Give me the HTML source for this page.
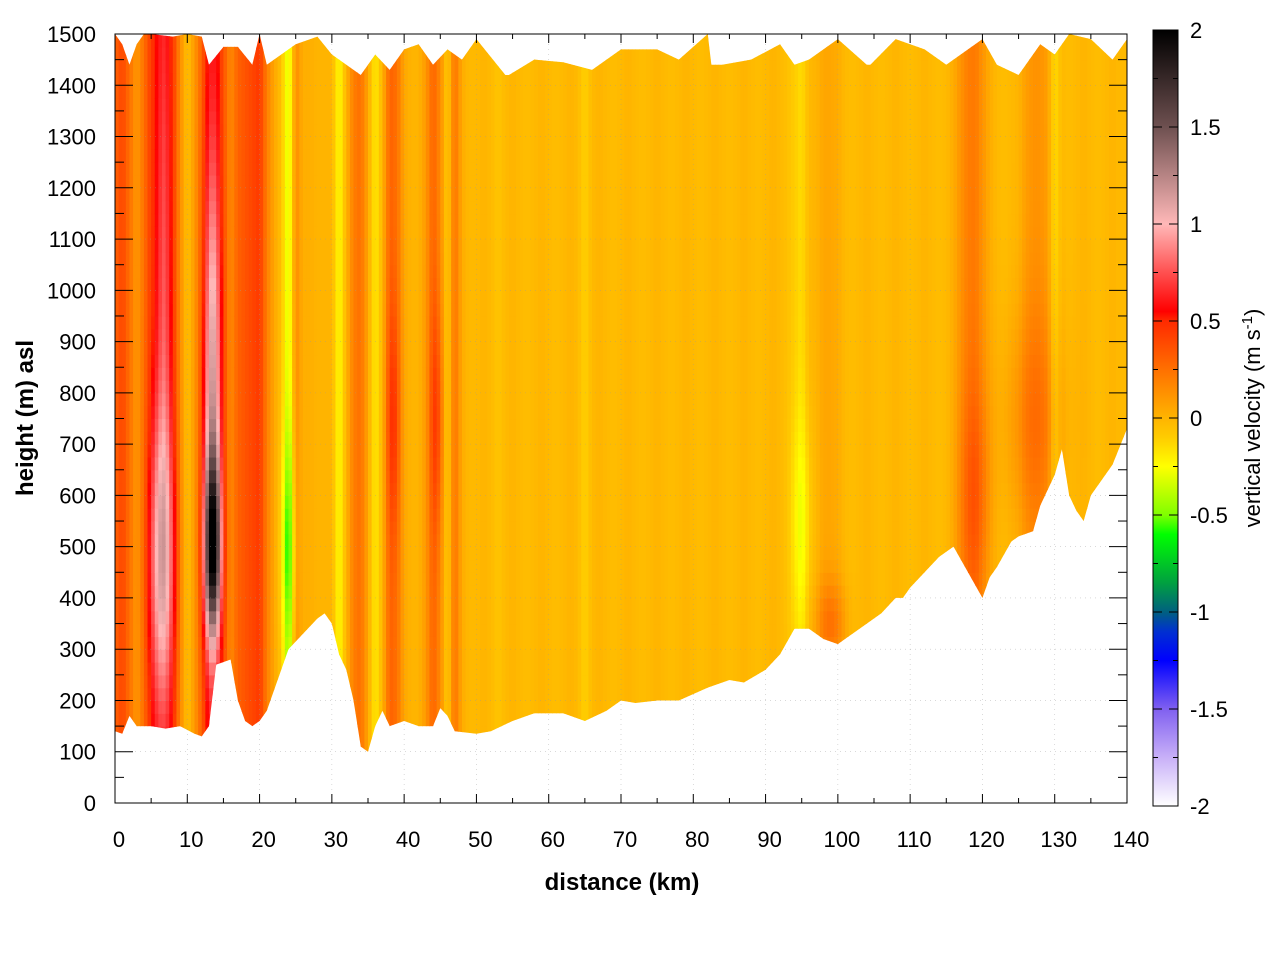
<!DOCTYPE html>
<html><head><meta charset="utf-8"><style>
html,body{margin:0;padding:0;background:#fff;}
svg{display:block;font-family:"Liberation Sans",sans-serif;}
</style></head><body>
<svg id="chart" width="1280" height="960" viewBox="0 0 1280 960" xmlns="http://www.w3.org/2000/svg">
<defs>
<clipPath id="terrainClip"><polygon id="clipPoly" points=""/></clipPath>
<linearGradient id="cbGrad" x1="0" y1="1" x2="0" y2="0"></linearGradient>
</defs>
<g id="cells" clip-path="url(#terrainClip)"></g>
<g id="grid"></g>
<g id="axes"></g>
<text x="622" y="890" text-anchor="middle" font-size="24" font-weight="bold">distance (km)</text>
<text transform="translate(33,418) rotate(-90)" text-anchor="middle" font-size="24" font-weight="bold">height (m) asl</text>
<rect x="1153" y="30" width="25" height="776" fill="url(#cbGrad)" stroke="#000" stroke-width="1"/>
<g id="cbticks"></g>
<text transform="translate(1260,418) rotate(-90)" text-anchor="middle" font-size="22">vertical velocity (m s<tspan dy="-8" font-size="15">-1</tspan><tspan dy="8">)</tspan></text>
</svg>
<script>
// ---- data ----
const xTicks = [0,10,20,30,40,50,60,70,80,90,100,110,120,130,140];
const yTicks = [0,100,200,300,400,500,600,700,800,900,1000,1100,1200,1300,1400,1500];
const cbTicks = [-2,-1.5,-1,-0.5,0,0.5,1,1.5,2];
const cbLabels = ["-2","-1.5","-1","-0.5","0","0.5","1","1.5","2"];
const groundKm = [0,1,2,3,5,7,9,11,12,13,14,16,17,18,19,20,21,22,24,26,28,29,30,31,32,33,34,35,36,37,38,40,42,44,45,46,47,50,52,55,58,62,65,68,70,72,75,78,82,85,87,90,92,94,96,98,100,102,104,106,108,109,110,112,114,115,116,118,120,121,122,124,125,127,128,130,131,132,133,134,135,136,138,140];
const groundH = [140,135,170,150,150,145,150,135,130,150,270,280,200,160,150,160,180,220,300,330,360,370,350,290,260,200,110,100,150,180,150,160,150,150,185,170,140,135,140,160,175,175,160,180,200,195,200,200,225,240,235,260,290,340,340,320,310,330,350,370,400,400,420,450,480,490,500,450,400,440,460,510,520,530,580,640,690,600,570,550,600,620,660,730];
const topKm = [0,1,2,3,4,5,8,10,12,13,15,17,19,20,21,22,25,28,30,32,34,36,38,40,42,44,46,48,50,54,54.5,58,62,66,70,75,78,82,82.5,84,88,92,94,96,100,104,104.5,108,112,115,120,122,125,128,130,132,135,138,140];
const topH = [1500,1480,1440,1480,1500,1500,1495,1500,1495,1440,1475,1475,1440,1500,1440,1450,1480,1495,1460,1440,1420,1460,1430,1470,1480,1440,1470,1450,1490,1420,1420,1450,1445,1430,1470,1470,1450,1500,1440,1440,1450,1480,1440,1450,1490,1440,1440,1490,1470,1440,1490,1440,1420,1480,1460,1500,1490,1450,1490];
const base = [0.3,0.4,0.25,0.1,0.25,0.45,0.55,0.55,0.45,0.15,-0.05,0.1,0.3,0.55,0.55,0.35,0.15,0.3,0.35,0.4,0.45,0.2,0.05,-0.05,-0.35,0.15,0.02,0.02,0.0,0.0,0.0,-0.25,0.0,0.2,0.25,0.05,-0.2,0.0,0.3,0.25,0.05,0.0,0.0,0.1,0.3,0.15,-0.1,0.25,0.03,-0.02,
-0.02,0.0,-0.02,-0.07,-0.02,0.0,-0.02,-0.04,-0.02,0.0,-0.02,-0.04,-0.02,0.0,-0.02,-0.12,-0.02,0.0,-0.02,-0.04,-0.02,0.0,-0.02,-0.04,-0.02,0.0,-0.02,-0.04,-0.02,0.0,-0.02,-0.04,-0.02,0.0,-0.02,-0.04,-0.02,0.0,-0.02,-0.04,-0.02,0.0,-0.02,-0.05,-0.1,-0.15,-0.02,0.0,0.05,0.05,0.03,-0.02,-0.04,-0.02,0.0,-0.02,-0.04,-0.02,0.0,-0.02,-0.04,-0.02,0.0,-0.02,-0.04,-0.02,0.03,0.12,0.2,0.22,0.12,0.03,-0.02,-0.04,-0.02,0.0,0.08,0.12,0.12,0.08,-0.15,-0.02,-0.04,-0.02,0.0,-0.02,-0.04,-0.02,0.0,-0.02,-0.02];
const blobKm = [6.5,6.8,13.5,13.5,24,38.5,44.5,119,127,99,95];
const blobH = [480,1000,500,800,500,750,750,600,750,350,550];
const blobAmp = [0.55,0.2,1.3,0.6,-0.3,0.2,0.2,0.15,0.15,0.2,-0.15];
// ---- scales ----
const X0=115,X1=1127,Y0=803,Y1=34;
const sx = d => X0 + d*(X1-X0)/140;
const sy = h => Y0 - h*(Y0-Y1)/1500;
const blobSx=[1.2,0.6,0.8,0.8,0.7,0.6,0.6,1.5,3,1.5,1], blobSh=[200,400,120,300,150,150,150,150,150,60,150];
const stopsV=[-2,-1.75,-1.5,-1.25,-1.1,-1,-0.85,-0.6,-0.5,-0.25,-0.1,0,0.25,0.5,0.55,0.75,1.0,1.5,2];
const stopsC=["#ffffff","#c8b0f8","#8060f0","#0000ff","#0030d0","#006080","#00a040","#00ff00","#80ff00","#ffff00","#ffcc00","#ffb400","#ff7000","#ff2a00","#ff0000","#ff5050","#ffb8b8","#6e5050","#000000"];
function hex(c){return [1,3,5].map(i=>parseInt(c.substr(i,2),16));}
function color(v){v=Math.max(-2,Math.min(2,v));for(let i=0;i<stopsV.length-1;i++){if(v<=stopsV[i+1]){const t=(v-stopsV[i])/(stopsV[i+1]-stopsV[i]);const a=hex(stopsC[i]),b=hex(stopsC[i+1]);return "rgb("+a.map((x,k)=>Math.round(x+(b[k]-x)*t)).join(",")+")";}}return stopsC[stopsC.length-1];}
const NS="http://www.w3.org/2000/svg";
function el(tag,attrs,parent){const e=document.createElementNS(NS,tag);for(const k in attrs)e.setAttribute(k,attrs[k]);parent.appendChild(e);return e;}
// clip
let pts=topKm.map((d,i)=>sx(d)+","+sy(topH[i]));
for(let i=groundKm.length-1;i>=0;i--)pts.push(sx(groundKm[i])+","+sy(groundH[i]));
document.getElementById('clipPoly').setAttribute('points',pts.join(' '));
// cells
const cells=document.getElementById('cells');
const dstep=0.5,hstep=25;
for(let d=0;d<140;d+=dstep){
  const i0=Math.floor(d),i1=Math.min(140,i0+1),f=d-i0+dstep/2;
  const b=base[i0]*(1-f)+base[i1]*f;
  for(let h=0;h<1500;h+=hstep){
    let v=b;
    for(let k=0;k<blobKm.length;k++){const dx=(d+dstep/2-blobKm[k])/blobSx[k],dh=(h+hstep/2-blobH[k])/blobSh[k];v+=blobAmp[k]*Math.exp(-0.5*(dx*dx+dh*dh));}
    const r=el('rect',{x:sx(d),y:sy(h+hstep),width:sx(dstep)-X0+0.6,height:sy(0)-sy(hstep)+0.6,fill:color(v)},cells);
    
    
  }
}
// grid & axes
const grid=document.getElementById('grid'),axes=document.getElementById('axes');
xTicks.forEach(t=>{if(t>0&&t<140)el('line',{x1:sx(t),x2:sx(t),y1:Y1,y2:Y0,stroke:'#999','stroke-width':0.6,'stroke-dasharray':'1,4','stroke-opacity':0.6},grid);});
yTicks.forEach(t=>{if(t>0&&t<1500)el('line',{x1:X0,x2:X1,y1:sy(t),y2:sy(t),stroke:'#999','stroke-width':0.6,'stroke-dasharray':'1,4','stroke-opacity':0.6},grid);});
el('rect',{x:X0,y:Y1,width:X1-X0,height:Y0-Y1,fill:'none',stroke:'#000','stroke-width':1},axes);
for(let t=0;t<=140;t+=5){const L=t%10===0?9:5;el('line',{x1:sx(t),x2:sx(t),y1:Y0,y2:Y0-L,stroke:'#000'},axes);el('line',{x1:sx(t),x2:sx(t),y1:Y1,y2:Y1+L,stroke:'#000'},axes);}
for(let t=0;t<=1500;t+=50){const L=t%100===0?18:9;el('line',{x1:X0,x2:X0+L,y1:sy(t),y2:sy(t),stroke:'#000'},axes);el('line',{x1:X1,x2:X1-L,y1:sy(t),y2:sy(t),stroke:'#000'},axes);}
xTicks.forEach(t=>{const e=el('text',{x:sx(t)+4,y:847,'text-anchor':'middle','font-size':22},axes);e.textContent=t;});
yTicks.forEach(t=>{const e=el('text',{x:96,y:sy(t)+8,'text-anchor':'end','font-size':22},axes);e.textContent=t;});
// colorbar
const g=document.getElementById('cbGrad');
stopsV.forEach((v,i)=>el('stop',{offset:((v+2)/4),'stop-color':stopsC[i]},g));
const cb=document.getElementById('cbticks');
const cy=v=>806-(v+2)/4*776;
for(let v=-2;v<=2.001;v+=0.25){const L=Math.abs(v*2-Math.round(v*2))<0.01?9:5;el('line',{x1:1153,x2:1153+L,y1:cy(v),y2:cy(v),stroke:'#000'},cb);el('line',{x1:1178,x2:1178-L,y1:cy(v),y2:cy(v),stroke:'#000'},cb);}
cbTicks.forEach((v,i)=>{const e=el('text',{x:1190,y:cy(v)+8,'font-size':22},cb);e.textContent=cbLabels[i];});
</script>
</body></html>
